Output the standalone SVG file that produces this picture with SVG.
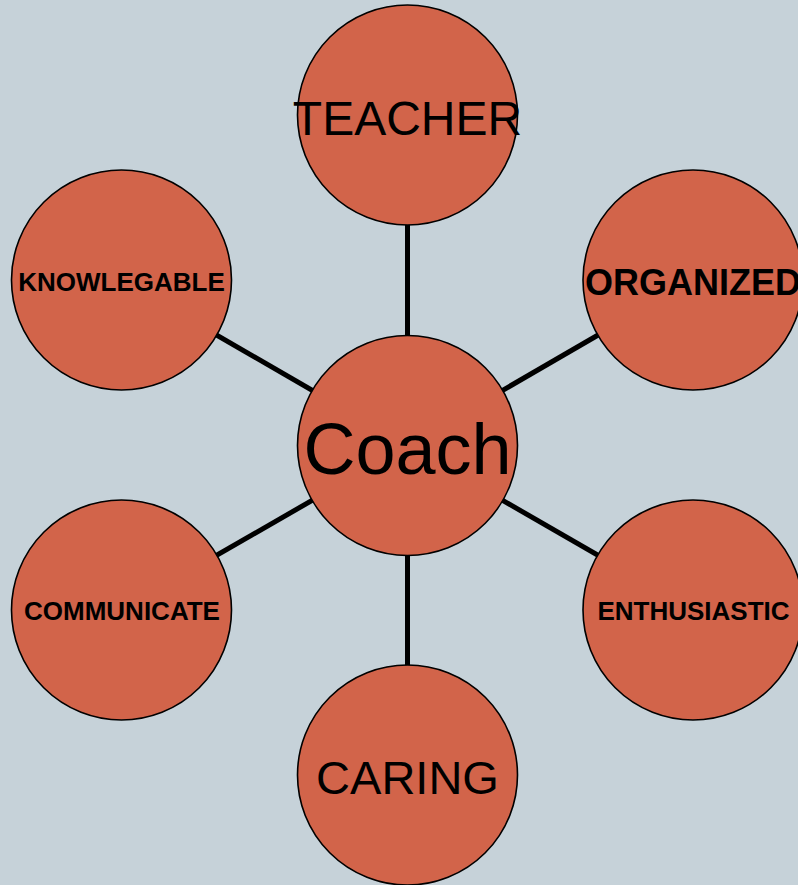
<svg xmlns="http://www.w3.org/2000/svg" width="798" height="885" viewBox="0 0 798 885">
<style>
.node{fill:#D2644A;stroke:#000;stroke-width:1.6}
.conn{stroke:#000;stroke-width:5;fill:none}
text{font-family:"Liberation Sans",Arial,sans-serif;fill:#000;text-anchor:middle}
.b{font-weight:bold;font-size:26px}
.l{font-size:47px}
</style>
<rect x="0" y="0" width="798" height="885" fill="#C6D2D9"/>
<g id="connectors">
<line class="conn" x1="407.5" y1="445.5" x2="407.5" y2="115"/>
<line class="conn" x1="407.5" y1="445.5" x2="407.5" y2="775"/>
<line class="conn" x1="407.5" y1="445.5" x2="693" y2="280"/>
<line class="conn" x1="407.5" y1="445.5" x2="693" y2="610"/>
<line class="conn" x1="407.5" y1="445.5" x2="121.5" y2="280"/>
<line class="conn" x1="407.5" y1="445.5" x2="121.5" y2="610"/>
</g>
<g id="teacher"><circle class="node" cx="407.5" cy="115" r="110"/><text class="l" x="407.5" y="135" font-size="48" style="font-size:48px">TEACHER</text></g>
<g id="organized"><circle class="node" cx="693" cy="280" r="110"/><text class="b" x="693" y="295" style="font-size:36px">ORGANIZED</text></g>
<g id="knowlegable"><circle class="node" cx="121.5" cy="280" r="110"/><text class="b" x="121.5" y="290.5">KNOWLEGABLE</text></g>
<g id="coach"><circle class="node" cx="407.5" cy="445.5" r="110"/><text x="407.5" y="474" style="font-size:72px">Coach</text></g>
<g id="communicate"><circle class="node" cx="121.5" cy="610" r="110"/><text class="b" x="122" y="619.5">COMMUNICATE</text></g>
<g id="enthusiastic"><circle class="node" cx="693" cy="610" r="110"/><text class="b" x="693.5" y="620">ENTHUSIASTIC</text></g>
<g id="caring"><circle class="node" cx="407.5" cy="775" r="110"/><text class="l" x="407.5" y="794">CARING</text></g>
</svg>
